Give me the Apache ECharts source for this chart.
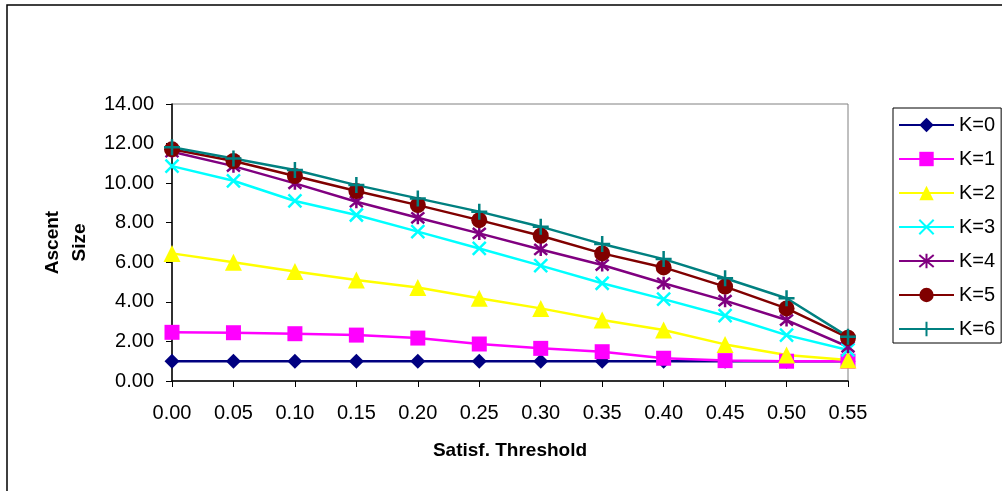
<!DOCTYPE html>
<html>
<head>
<meta charset="utf-8">
<script src="https://cdn.jsdelivr.net/npm/echarts@6/dist/echarts.min.js"></script>
<style>
  html, body { margin: 0; padding: 0; background: #fff; }
  #main { width: 1002px; height: 491px; }
</style>
</head>
<body>
<div id="main"></div>
<script>
// chart data
var thresholds = ['0.00', '0.05', '0.10', '0.15', '0.20', '0.25', '0.30', '0.35', '0.40', '0.45', '0.50', '0.55'];
var kNames = ['K=0', 'K=1', 'K=2', 'K=3', 'K=4', 'K=5', 'K=6'];
var k0 = [1.00, 1.00, 1.00, 1.00, 1.00, 1.00, 1.00, 1.00, 1.00, 1.00, 1.00, 1.00];
var k1 = [2.46, 2.44, 2.39, 2.32, 2.17, 1.87, 1.65, 1.48, 1.15, 1.03, 1.00, 1.00];
var k2 = [6.45, 6.00, 5.53, 5.10, 4.73, 4.18, 3.67, 3.08, 2.58, 1.85, 1.31, 1.06];
var k3 = [10.86, 10.12, 9.10, 8.39, 7.55, 6.70, 5.83, 4.94, 4.14, 3.30, 2.32, 1.57];
var k4 = [11.59, 10.86, 9.99, 9.06, 8.25, 7.46, 6.65, 5.86, 4.94, 4.06, 3.08, 1.73];
var k5 = [11.71, 11.12, 10.36, 9.60, 8.89, 8.13, 7.34, 6.45, 5.74, 4.77, 3.67, 2.19];
var k6 = [11.81, 11.25, 10.66, 9.90, 9.23, 8.56, 7.80, 6.92, 6.16, 5.19, 4.18, 2.24];

var chart = echarts.init(document.getElementById('main'));

var FONT = '"Liberation Sans", Arial, sans-serif';

// marker shapes
var crossPath = 'path://M0,0L10,10M10,0L0,10';
var starPath = 'path://M0,0L10,10M10,0L0,10M5,-1L5,11';
var plusPath = 'path://M5,0L5,10M0,5L10,5';

function makeSeries(name, data, color, symbol, size, stroke) {
  return {
    name: name,
    type: 'line',
    data: data,
    symbol: symbol,
    symbolSize: size,
    showAllSymbol: true,
    lineStyle: { color: color, width: 2.5 },
    itemStyle: stroke
      ? { color: color, borderColor: color, borderWidth: 2.5 }
      : { color: color, borderWidth: 0 },
    emphasis: { disabled: true }
  };
}

var option = {
  animation: false,
  backgroundColor: '#fff',
  textStyle: { fontFamily: FONT },
  graphic: [
    {
      type: 'rect',
      shape: { x: 7, y: 5, width: 1100, height: 600 },
      style: { fill: 'none', stroke: '#000', lineWidth: 1.5 },
      silent: true
    }
  ],
  grid: {
    left: 172,
    right: 154,
    top: 104,
    bottom: 110,
    show: true,
    borderColor: '#808080',
    borderWidth: 1
  },
  legend: {
    orient: 'vertical',
    left: 893,
    top: 108,
    width: 104,
    padding: [7, 6, 4, 5],
    itemWidth: 55,
    itemHeight: 18,
    itemGap: 14,
    borderColor: '#000',
    borderWidth: 1,
    data: kNames,
    textStyle: { fontFamily: FONT, fontSize: 20, color: '#000' }
  },
  xAxis: {
    type: 'category',
    data: thresholds,
    boundaryGap: false,
    name: 'Satisf. Threshold',
    nameLocation: 'middle',
    nameGap: 60,
    nameTextStyle: { fontFamily: FONT, fontSize: 19, fontWeight: 'bold', color: '#000' },
    axisLine: { lineStyle: { color: '#000', width: 1.5 } },
    axisTick: { alignWithLabel: true, length: 6, lineStyle: { color: '#000' } },
    axisLabel: { margin: 22, fontSize: 20, color: '#000', fontFamily: FONT },
    splitLine: { show: false }
  },
  yAxis: {
    type: 'value',
    min: 0,
    max: 14,
    interval: 2,
    name: 'Ascent\nSize',
    nameLocation: 'middle',
    nameRotate: 90,
    nameGap: 78,
    nameTextStyle: { fontFamily: FONT, fontSize: 19, fontWeight: 'bold', color: '#000', lineHeight: 27 },
    axisLine: { show: true, lineStyle: { color: '#000', width: 1.5 } },
    axisTick: { show: true, length: 6, lineStyle: { color: '#000' } },
    axisLabel: {
      margin: 18,
      fontSize: 20,
      color: '#000',
      fontFamily: FONT,
      formatter: function (v) { return v.toFixed(2); }
    },
    splitLine: { show: false }
  },
  series: [
    makeSeries('K=0', k0, '#000080', 'diamond', 15, false),
    makeSeries('K=1', k1, '#FF00FF', 'rect', 15, false),
    makeSeries('K=2', k2, '#FFFF00', 'triangle', 17, false),
    makeSeries('K=3', k3, '#00FFFF', crossPath, 13, true),
    makeSeries('K=4', k4, '#800080', starPath, 13, true),
    makeSeries('K=5', k5, '#800000', 'circle', 16, false),
    makeSeries('K=6', k6, '#008080', plusPath, 16, true)
  ]
};

chart.setOption(option);
</script>
</body>
</html>
